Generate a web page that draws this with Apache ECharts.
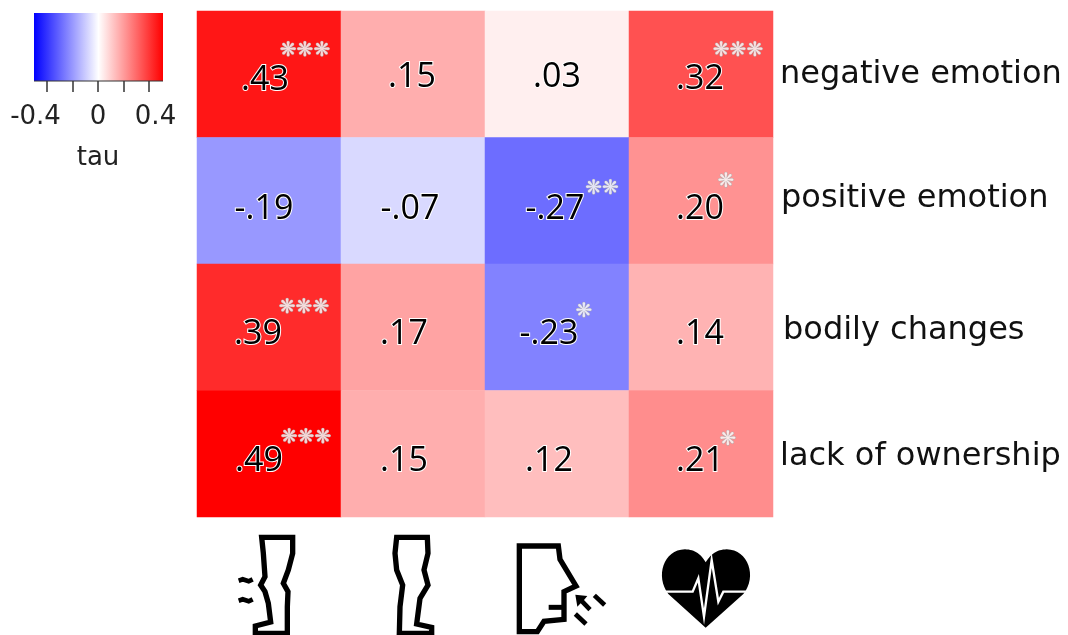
<!DOCTYPE html>
<html><head><meta charset="utf-8">
<style>html,body{margin:0;padding:0;background:#fff}#c{width:1068px;height:635px}</style>
<script src="https://cdn.jsdelivr.net/npm/echarts@6/dist/echarts.min.js"></script></head>
<body><div id="c"></div>
<script>
const rowNames = ['negative emotion','positive emotion','bodily changes','lack of ownership'];
const colNames = ['legs-arrows','legs','breath','heart'];
const tau = [
  [0.43,0.15,0.03,0.32],
  [-0.19,-0.07,-0.27,0.20],
  [0.39,0.17,-0.23,0.14],
  [0.49,0.15,0.12,0.21]
];
const stars = [
  ['***','','','***'],
  ['','','**','*'],
  ['***','','*',''],
  ['***','','','*']
];
const legendLabels = {'-0.4':'{l|-0.4}','0':'{m|0}','0.4':'{r|0.4}'};
// small hand-placed text nudges (px), as in the reference
const valueNudge = [
  [[-4,6],[-1,3],[0,3],[-1,5]],
  [[-5,9],[-3,9],[-2,9],[-1,9]],
  [[-11,7],[-9,7],[-8,7],[-1,7]],
  [[-10,8],[-9,8],[-8,8],[-1,8]]
];
const starNudge = [
  [[36,-23],[0,0],[0,0],[37,-23]],
  [[0,0],[0,0],[45,-12],[25,-19]],
  [[35,-19],[0,0],[27,-15],[0,0]],
  [[37,-16],[0,0],[0,0],[27,-14]]
];
const fmt = v => (v<0?'-':'') + Math.abs(v).toFixed(2).replace(/^0/,'');
const cells=[], starCells=[];
tau.forEach((r,i)=>r.forEach((v,j)=>{
  cells.push({value:[j,i,v],label:{offset:valueNudge[i][j]}});
  if(stars[i][j]) starCells.push({name:stars[i][j],value:[j,i],label:{offset:starNudge[i][j]}});
}));
const icon=(x,y,children)=>({type:'group',x,y,scaleX:1/3,scaleY:1/3,silent:true,children});
const line=(points,w,c)=>({type:'polyline',shape:{points},style:{fill:'none',stroke:c||'#000',lineWidth:w,lineJoin:'miter'}});
const ring=(points,w)=>({type:'polygon',shape:{points},style:{fill:'none',stroke:'#000',lineWidth:w,lineJoin:'miter'}});
const solid=(points)=>({type:'polygon',shape:{points},style:{fill:'#000'}});
const bez=(a,b,c,d)=>{const o=[];for(let k=1;k<=16;k++){const t=k/16,u=1-t;o.push([u*u*u*a[0]+3*u*u*t*b[0]+3*u*t*t*c[0]+t*t*t*d[0],u*u*u*a[1]+3*u*u*t*b[1]+3*u*t*t*c[1]+t*t*t*d[1]]);}return o;};
const heart=[[617,323],[505,222],
  ...bez([505,222],[465,170],[490,88],[555,88]),
  ...bez([555,88],[585,88],[605,105],[617,127]),
  ...bez([617,127],[630,105],[650,88],[680,88]),
  ...bez([680,88],[745,88],[772,170],[730,222])];
const rowFont={fontFamily:'DejaVu Sans',fontSize:32,color:'#111'};
const legFont={fontFamily:'DejaVu Sans',fontSize:26,color:'#222'};
const chart=echarts.init(document.getElementById('c'));
chart.setOption({
  backgroundColor:'#fff',animation:false,
  grid:[
    {left:197,top:11,width:576,height:506},
    {left:47,top:13,width:102,height:68}
  ],
  xAxis:[
    {gridIndex:0,type:'category',data:colNames,axisLine:{show:false},axisTick:{show:false},axisLabel:{show:false},splitLine:{show:false}},
    {gridIndex:1,type:'value',min:-0.4,max:0.4,interval:0.2,position:'bottom',
      axisLine:{show:false},axisTick:{show:true,length:11,lineStyle:{color:'#333',width:1.5}},splitLine:{show:false},
      axisLabel:{margin:23,hideOverlap:false,showMinLabel:true,showMaxLabel:true,
        formatter:v=>legendLabels[String(Math.round(v*10)/10)]||'',
        rich:{l:{...legFont,padding:[0,23,0,0]},m:{...legFont},r:{...legFont,padding:[0,0,0,13]}}},
      name:'tau',nameLocation:'middle',nameGap:64,nameTextStyle:legFont}
  ],
  yAxis:[
    {gridIndex:0,type:'category',inverse:true,data:rowNames,position:'right',axisLine:{show:false},axisTick:{show:false},splitLine:{show:false},
      axisLabel:{margin:7,align:'left',formatter:(v,i)=>'{r'+i+'|'+v+'}',
        rich:{r0:{...rowFont},r1:{...rowFont,padding:[0,0,5,1]},r2:{...rowFont,padding:[7,0,0,3]},r3:{...rowFont,padding:[5,0,0,0]}}}},
    {gridIndex:1,type:'value',min:0,max:1,show:false}
  ],
  visualMap:{type:'continuous',show:false,seriesIndex:0,min:-0.47,max:0.47,dimension:2,inRange:{color:['#0000ff','#ffffff','#ff0000']}},
  series:[
    {type:'heatmap',xAxisIndex:0,yAxisIndex:0,data:cells,
      label:{show:true,formatter:p=>fmt(p.value[2]),fontFamily:'Open Sans',fontSize:34,color:'#000',textBorderColor:'#fff',textBorderWidth:2}},
    {type:'scatter',xAxisIndex:0,yAxisIndex:0,data:starCells,symbolSize:1,itemStyle:{color:'transparent'},z:5,
      label:{show:true,position:'inside',formatter:p=>p.name.replace(/\*/g,'\u274B'),fontFamily:'DejaVu Sans',fontSize:20,color:'#fff',textBorderColor:'#aaa',textBorderWidth:1}}
  ],
  graphic:[
    {type:'rect',shape:{x:34,y:13,width:129,height:68},silent:true,z:-1,
      style:{fill:new echarts.graphic.LinearGradient(0,0,1,0,[{offset:0,color:'#0000ff'},{offset:0.5,color:'#ffffff'},{offset:1,color:'#ff0000'}])}},
    {type:'line',shape:{x1:34,y1:81,x2:163,y2:81},style:{stroke:'#333',lineWidth:1},silent:true},
    icon(200,520,[
      ring([[185,52],[278,52],[278,100],[265,150],[250,190],[264,215],[262,260],[262,340],[166,340],[166,318],[212,306],[205,250],[195,215],[182,195],[195,170],[190,100]],16),
      line([[116,182],[128,178],[146,184],[158,178]],14),
      line([[116,242],[128,238],[146,244],[158,238]],14),
      ring([[590,52],[682,52],[684,100],[672,150],[684,195],[660,235],[650,312],[695,322],[695,340],[598,340],[600,260],[608,195],[590,150],[585,100]],16)
    ]),
    icon(500,520,[
      ring([[58,78],[175,78],[180,118],[228,198],[192,215],[192,298],[132,304],[112,335],[58,335]],16),
      line([[146,262],[190,262]],15),
      solid([[226,224],[262,228],[252,240],[275,264],[265,274],[242,250],[232,260]]),
      line([[283,226],[314,255]],14),
      line([[226,282],[258,312]],14),
      solid(heart),
      line([[495,215],[578,215],[595,175],[612,290],[635,120],[655,245],[670,215],[745,215]],7,'#fff')
    ])
  ]
});
</script></body></html>
